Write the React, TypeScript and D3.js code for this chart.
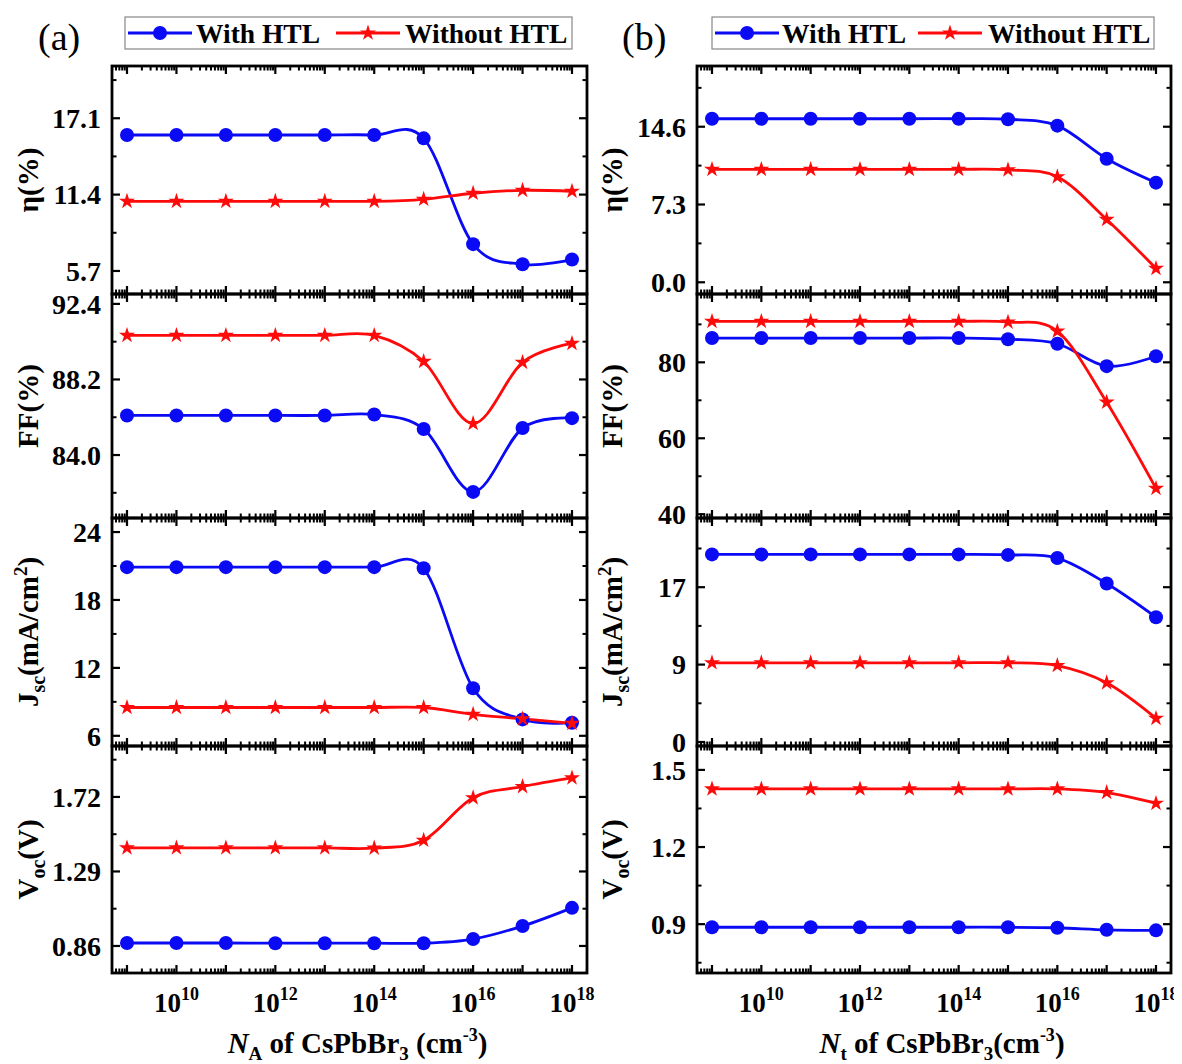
import React from "react";
import * as d3 from "d3";

const FONT = "'Liberation Serif', 'Times New Roman', Times, serif";
const BLUE = "#0a0af5";
const RED = "#ff0a0a";

// x categories (doping / defect density, cm^-3)
const xValues = [1e9, 1e10, 1e11, 1e12, 1e13, 1e14, 1e15, 1e16, 1e17, 1e18];
const xLabelValues = [1e10, 1e12, 1e14, 1e16, 1e18];
const xLabelExps = ["10", "12", "14", "16", "18"];

// (a) N_A sweep
const etaA_with = [15.85, 15.85, 15.85, 15.85, 15.85, 15.85, 15.6, 7.7, 6.2, 6.55];
const etaA_without = [10.9, 10.9, 10.9, 10.9, 10.9, 10.9, 11.05, 11.5, 11.72, 11.65];
const ffA_with = [86.2, 86.2, 86.2, 86.2, 86.2, 86.25, 85.45, 81.95, 85.5, 86.05];
const ffA_without = [90.65, 90.65, 90.65, 90.65, 90.65, 90.65, 89.2, 85.75, 89.15, 90.2];
const jscA_with = [20.9, 20.9, 20.9, 20.9, 20.9, 20.9, 20.8, 10.2, 7.45, 7.15];
const jscA_without = [8.5, 8.5, 8.5, 8.5, 8.5, 8.5, 8.5, 7.9, 7.5, 7.1];
const vocA_with = [0.877, 0.877, 0.877, 0.876, 0.876, 0.876, 0.876, 0.9, 0.975, 1.08];
const vocA_without = [1.426, 1.426, 1.426, 1.426, 1.426, 1.425, 1.47, 1.715, 1.78, 1.83];

// (b) N_t sweep
const etaB_with = [15.35, 15.35, 15.35, 15.35, 15.35, 15.35, 15.3, 14.7, 11.6, 9.35];
const etaB_without = [10.6, 10.6, 10.6, 10.6, 10.6, 10.6, 10.55, 9.9, 5.9, 1.3];
const ffB_with = [86.4, 86.4, 86.4, 86.4, 86.4, 86.4, 86.1, 84.9, 79.0, 81.6];
const ffB_without = [90.8, 90.8, 90.8, 90.8, 90.8, 90.8, 90.6, 88.2, 69.5, 46.8];
const jscB_with = [20.6, 20.6, 20.6, 20.6, 20.6, 20.6, 20.55, 20.2, 17.4, 13.7];
const jscB_without = [8.7, 8.7, 8.7, 8.7, 8.7, 8.7, 8.7, 8.4, 6.5, 2.6];
const vocB_with = [0.888, 0.888, 0.888, 0.888, 0.888, 0.888, 0.888, 0.886, 0.878, 0.876];
const vocB_without = [1.426, 1.426, 1.426, 1.426, 1.426, 1.426, 1.426, 1.426, 1.412, 1.37];

// y axis ticks
const etaA_ticks = [5.7, 11.4, 17.1];
const etaA_labels = ["5.7", "11.4", "17.1"];
const ffA_ticks = [84.0, 88.2, 92.4];
const ffA_labels = ["84.0", "88.2", "92.4"];
const jscA_ticks = [6, 12, 18, 24];
const jscA_labels = ["6", "12", "18", "24"];
const vocA_ticks = [0.86, 1.29, 1.72];
const vocA_labels = ["0.86", "1.29", "1.72"];
const etaB_ticks = [0, 7.3, 14.6];
const etaB_labels = ["0.0", "7.3", "14.6"];
const ffB_ticks = [40, 60, 80];
const ffB_labels = ["40", "60", "80"];
const jscB_ticks = [0, 8.5, 17];
const jscB_labels = ["0", "9", "17"];
const vocB_ticks = [0.9, 1.2, 1.5];
const vocB_labels = ["0.9", "1.2", "1.5"];

type Panel = {
  title: string;
  domain: [number, number];
  ticks: number[];
  labels: string[];
  withHTL: number[];
  withoutHTL: number[];
};

const panelsA: Panel[] = [
  { title: "eta", domain: [3.98, 21.0], ticks: etaA_ticks, labels: etaA_labels, withHTL: etaA_with, withoutHTL: etaA_without },
  { title: "ff", domain: [80.5, 92.95], ticks: ffA_ticks, labels: ffA_labels, withHTL: ffA_with, withoutHTL: ffA_without },
  { title: "jsc", domain: [5.1, 25.24], ticks: jscA_ticks, labels: jscA_labels, withHTL: jscA_with, withoutHTL: jscA_without },
  { title: "voc", domain: [0.704, 2.014], ticks: vocA_ticks, labels: vocA_labels, withHTL: vocA_with, withoutHTL: vocA_without },
];
const panelsB: Panel[] = [
  { title: "eta", domain: [-1.1, 20.3], ticks: etaB_ticks, labels: etaB_labels, withHTL: etaB_with, withoutHTL: etaB_without },
  { title: "ff", domain: [39, 98], ticks: ffB_ticks, labels: ffB_labels, withHTL: ffB_with, withoutHTL: ffB_without },
  { title: "jsc", domain: [-0.44, 24.6], ticks: jscB_ticks, labels: jscB_labels, withHTL: jscB_with, withoutHTL: jscB_without },
  { title: "voc", domain: [0.71, 1.593], ticks: vocB_ticks, labels: vocB_labels, withHTL: vocB_with, withoutHTL: vocB_without },
];

const ROWS = [66, 294, 518, 746, 973];
const MAJOR = 8;
const MINOR = 4.5;
const STAR = 80;

function YTitle({ kind, x, y }: { kind: string; x: number; y: number }) {
  const common = {
    transform: `translate(${x},${y}) rotate(-90)`,
    textAnchor: "middle" as const,
    fontFamily: FONT,
    fontWeight: "bold" as const,
    fontSize: 29,
  };
  if (kind === "eta") return <text {...common}>η(%)</text>;
  if (kind === "ff") return <text {...common}>FF(%)</text>;
  if (kind === "jsc")
    return (
      <text {...common}>
        J<tspan fontSize={20} dy={7}>sc</tspan>
        <tspan dy={-7}>(mA/cm</tspan>
        <tspan fontSize={19} dy={-11}>2</tspan>
        <tspan dy={11}>)</tspan>
      </text>
    );
  return (
    <text {...common}>
      V<tspan fontSize={20} dy={7}>oc</tspan>
      <tspan dy={-7}>(V)</tspan>
    </text>
  );
}

function Column({
  left,
  right,
  panels,
  titleX,
  axisTitle,
}: {
  left: number;
  right: number;
  panels: Panel[];
  titleX: number;
  axisTitle: React.ReactNode;
}) {
  const pad = 15;
  const step = (right - left - 2 * pad) / 9;
  const x = d3
    .scaleLog()
    .domain([Math.pow(10, 9 - pad / step), Math.pow(10, 18 + pad / step)])
    .range([left, right]);
  const [d0, d1] = x.domain();
  const majorX: number[] = [];
  const minorX: number[] = [];
  for (let k = 8; k <= 18; k++) {
    for (let m = 1; m <= 9; m++) {
      const v = m * Math.pow(10, k);
      if (v < d0 || v > d1) continue;
      if (m === 1) majorX.push(v);
      else minorX.push(v);
    }
  }
  const starPath = d3.symbol(d3.symbolStar, STAR)() as string;

  return (
    <g>
      {panels.map((p, i) => {
        const top = ROWS[i];
        const bottom = ROWS[i + 1];
        const y = d3.scaleLinear().domain(p.domain).range([bottom, top]);
        const tstep = p.ticks[1] - p.ticks[0];
        const minorY: number[] = [];
        for (let v = p.ticks[0] - tstep / 2; v <= p.domain[1]; v += tstep) {
          if (v >= p.domain[0]) minorY.push(v);
        }
        const line = d3
          .line<number>()
          .x((_, j) => x(xValues[j]))
          .y((d) => y(d))
          .curve(d3.curveCatmullRom.alpha(0));
        return (
          <g key={i}>
            <path d={line(p.withHTL) as string} fill="none" stroke={BLUE} strokeWidth={2.8} />
            <path d={line(p.withoutHTL) as string} fill="none" stroke={RED} strokeWidth={2.8} />
            {p.withHTL.map((v, j) => (
              <circle key={"c" + j} cx={x(xValues[j])} cy={y(v)} r={7} fill={BLUE} />
            ))}
            {p.withoutHTL.map((v, j) => (
              <path key={"s" + j} d={starPath} transform={`translate(${x(xValues[j])},${y(v)})`} fill={RED} />
            ))}
            {majorX.map((v, j) => (
              <g key={"mx" + j}>
                <line x1={x(v)} x2={x(v)} y1={bottom} y2={bottom - MAJOR} stroke="#000" strokeWidth={2.2} />
                <line x1={x(v)} x2={x(v)} y1={top} y2={top + MAJOR} stroke="#000" strokeWidth={2.2} />
              </g>
            ))}
            {minorX.map((v, j) => (
              <g key={"nx" + j}>
                <line x1={x(v)} x2={x(v)} y1={bottom} y2={bottom - MINOR} stroke="#000" strokeWidth={2} />
                <line x1={x(v)} x2={x(v)} y1={top} y2={top + MINOR} stroke="#000" strokeWidth={2} />
              </g>
            ))}
            {p.ticks.map((v, j) => (
              <g key={"my" + j}>
                <line x1={left} x2={left + MAJOR} y1={y(v)} y2={y(v)} stroke="#000" strokeWidth={2.2} />
                <line x1={right} x2={right - MAJOR} y1={y(v)} y2={y(v)} stroke="#000" strokeWidth={2.2} />
                <text
                  x={left - 11}
                  y={y(v)}
                  dy="0.35em"
                  textAnchor="end"
                  fontFamily={FONT}
                  fontWeight="bold"
                  fontSize={28}
                >
                  {p.labels[j]}
                </text>
              </g>
            ))}
            {minorY.map((v, j) => (
              <g key={"ny" + j}>
                <line x1={left} x2={left + MINOR} y1={y(v)} y2={y(v)} stroke="#000" strokeWidth={2} />
                <line x1={right} x2={right - MINOR} y1={y(v)} y2={y(v)} stroke="#000" strokeWidth={2} />
              </g>
            ))}
            <rect x={left} y={top} width={right - left} height={bottom - top} fill="none" stroke="#000" strokeWidth={2.8} />
            <YTitle kind={p.title} x={titleX} y={(top + bottom) / 2} />
          </g>
        );
      })}
      {xLabelValues.map((v, j) => (
        <text key={"xl" + j} x={x(v)} y={1012} textAnchor="middle" fontFamily={FONT} fontWeight="bold" fontSize={27}>
          10<tspan fontSize={18} dy={-12}>{xLabelExps[j]}</tspan>
        </text>
      ))}
      <text
        x={(left + right) / 2 + 8}
        y={1053}
        textAnchor="middle"
        fontFamily={FONT}
        fontWeight="bold"
        fontSize={29}
      >
        {axisTitle}
      </text>
    </g>
  );
}

function Legend({ x0, x1, lineA, textA, lineB, textB }: { x0: number; x1: number; lineA: number; textA: number; lineB: number; textB: number }) {
  const starPath = d3.symbol(d3.symbolStar, STAR)() as string;
  const cy = 33;
  return (
    <g>
      <rect x={x0} y={17} width={x1 - x0} height={32} fill="#fff" stroke="#888" strokeWidth={1.2} />
      <line x1={lineA} x2={lineA + 64} y1={cy} y2={cy} stroke={BLUE} strokeWidth={2.8} />
      <circle cx={lineA + 32} cy={cy} r={7} fill={BLUE} />
      <text x={textA} y={cy + 10} fontFamily={FONT} fontWeight="bold" fontSize={27.5}>
        With HTL
      </text>
      <line x1={lineB} x2={lineB + 64} y1={cy} y2={cy} stroke={RED} strokeWidth={2.8} />
      <path d={starPath} transform={`translate(${lineB + 32},${cy})`} fill={RED} />
      <text x={textB} y={cy + 10} fontFamily={FONT} fontWeight="bold" fontSize={27.5}>
        Without HTL
      </text>
    </g>
  );
}

export default function App() {
  return (
    <svg width={1182} height={1064} style={{ display: "block", marginLeft: -8, marginTop: -8 }} viewBox="0 0 1182 1064">
      <rect x={0} y={0} width={1182} height={1064} fill="#fff" />
      <text x={38} y={50} fontFamily={FONT} fontSize={38}>(a)</text>
      <text x={622} y={50} fontFamily={FONT} fontSize={38}>(b)</text>
      <Legend x0={125} x1={572} lineA={128} textA={196} lineB={336} textB={405} />
      <Legend x0={712} x1={1154} lineA={715} textA={782} lineB={918} textB={988} />
      <Column
        left={112}
        right={587}
        panels={panelsA}
        titleX={38}
        axisTitle={
          <>
            <tspan fontStyle="italic">N</tspan>
            <tspan fontSize={19} dy={7}>A</tspan>
            <tspan dy={-7}> of CsPbBr</tspan>
            <tspan fontSize={19} dy={7}>3</tspan>
            <tspan dy={-7}> (cm</tspan>
            <tspan fontSize={18} dy={-12}>-3</tspan>
            <tspan dy={12}>)</tspan>
          </>
        }
      />
      <Column
        left={697}
        right={1171}
        panels={panelsB}
        titleX={622}
        axisTitle={
          <>
            <tspan fontStyle="italic">N</tspan>
            <tspan fontSize={19} dy={7}>t</tspan>
            <tspan dy={-7}> of CsPbBr</tspan>
            <tspan fontSize={19} dy={7}>3</tspan>
            <tspan dy={-7}>(cm</tspan>
            <tspan fontSize={18} dy={-12}>-3</tspan>
            <tspan dy={12}>)</tspan>
          </>
        }
      />
    </svg>
  );
}
